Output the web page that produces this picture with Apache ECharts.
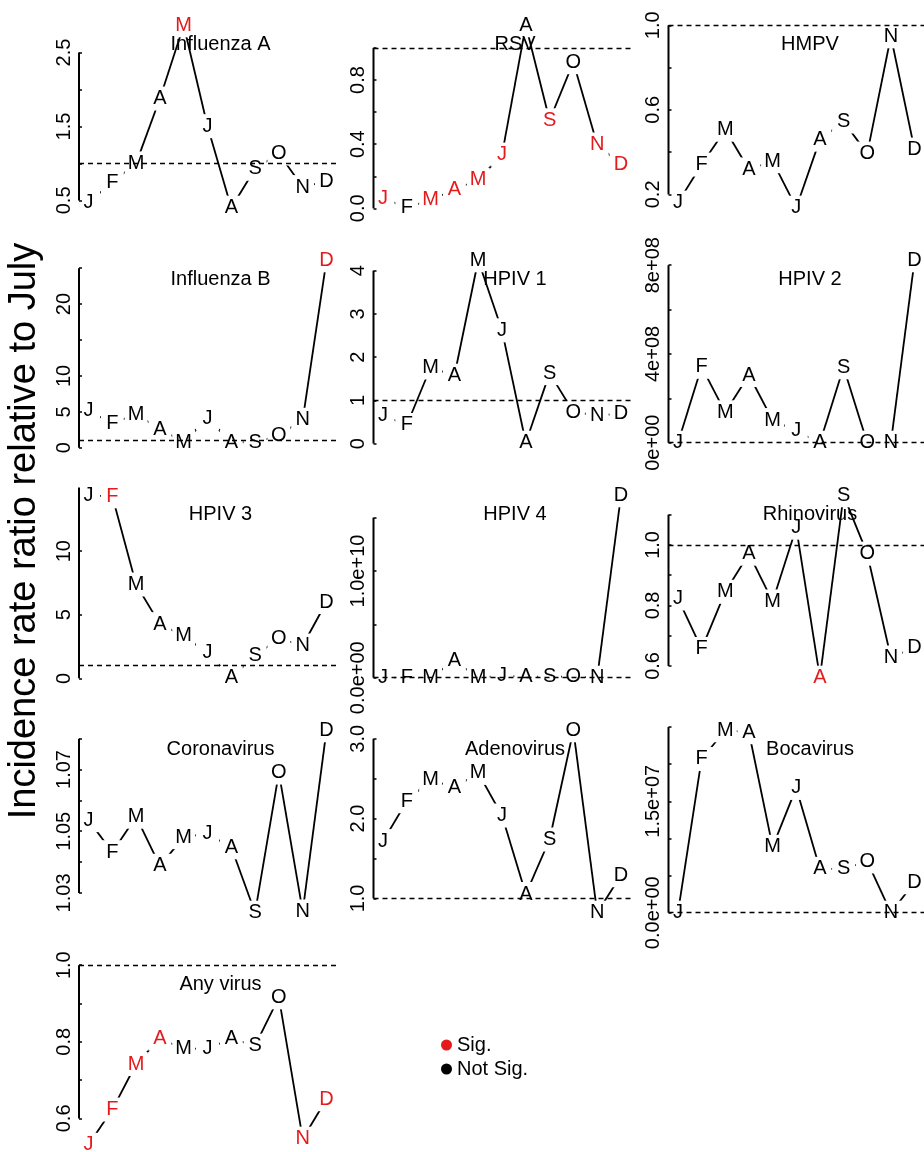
<!DOCTYPE html>
<html>
<head>
<meta charset="utf-8">
<script src="https://cdn.jsdelivr.net/npm/echarts@6/dist/echarts.min.js"></script>
<style>
  html, body { margin: 0; padding: 0; background: #ffffff; }
  #chart { width: 924px; height: 1152px; }
</style>
</head>
<body>
<div id="chart"></div>
<script>
// Month initials, July is the reference month and is left out
const months = ['J', 'F', 'M', 'A', 'M', 'J', 'A', 'S', 'O', 'N', 'D'];

// Incidence rate ratios relative to July, one array per virus
const fluA   = [0.469, 0.747, 1.00, 1.878, 2.869, 1.504, 0.401, 0.928, 1.135, 0.680, 0.761];
const rsv    = [0.063, 0.004, 0.053, 0.116, 0.178, 0.335, 1.141, 0.549, 0.911, 0.398, 0.273];
const hmpv   = [0.161, 0.341, 0.506, 0.318, 0.357, 0.137, 0.459, 0.545, 0.393, 0.948, 0.412];
const fluB   = [5.15, 3.37, 4.69, 2.58, 0.80, 4.07, 0.80, 0.70, 1.74, 3.89, 26.1];
const hpiv1  = [0.65, 0.43, 1.76, 1.57, 4.24, 2.62, 0.02, 1.63, 0.73, 0.65, 0.69];
const hpiv2  = [0.9, 3.42e8, 1.37e8, 3.05e8, 1.02e8, 0.53e8, 0.6, 3.40e8, 0.8, 1.1, 8.22e8];
const hpiv3  = [14.39, 14.31, 7.38, 4.26, 3.33, 2.0, 0.05, 1.78, 3.14, 2.58, 6.0];
const hpiv4  = [1.0, 1.2, 0.8, 1.6e9, 1.1, 2.0e8, 1.0e8, 1.0e8, 1.0e8, 1.3, 1.71e10];
const rhino  = [0.823, 0.656, 0.845, 0.971, 0.813, 1.057, 0.561, 1.164, 0.971, 0.628, 0.660];
const corona = [1.0536, 1.0432, 1.0547, 1.0388, 1.0481, 1.0492, 1.0448, 1.0236, 1.0690, 1.0240, 1.0827];
const adeno  = [1.718, 2.218, 2.487, 2.388, 2.572, 2.038, 1.055, 1.738, 3.106, 0.821, 1.29];
const boca   = [0.9, 20.7e6, 24.56e6, 24.3e6, 8.87e6, 16.8e6, 5.9e6, 5.9e6, 6.9e6, 0.7, 4.1e6];
const anyVirus = [0.531, 0.623, 0.742, 0.808, 0.782, 0.782, 0.808, 0.790, 0.916, 0.547, 0.650];

// Significance flags (1 = significant)
const fluASig   = [0, 0, 0, 0, 1, 0, 0, 0, 0, 0, 0];
const rsvSig    = [1, 0, 1, 1, 1, 1, 0, 1, 0, 1, 1];
const hmpvSig   = [0, 0, 0, 0, 0, 0, 0, 0, 0, 0, 0];
const fluBSig   = [0, 0, 0, 0, 0, 0, 0, 0, 0, 0, 1];
const hpiv1Sig  = [0, 0, 0, 0, 0, 0, 0, 0, 0, 0, 0];
const hpiv2Sig  = [0, 0, 0, 0, 0, 0, 0, 0, 0, 0, 0];
const hpiv3Sig  = [0, 1, 0, 0, 0, 0, 0, 0, 0, 0, 0];
const hpiv4Sig  = [0, 0, 0, 0, 0, 0, 0, 0, 0, 0, 0];
const rhinoSig  = [0, 0, 0, 0, 0, 0, 1, 0, 0, 0, 0];
const coronaSig = [0, 0, 0, 0, 0, 0, 0, 0, 0, 0, 0];
const adenoSig  = [0, 0, 0, 0, 0, 0, 0, 0, 0, 0, 0];
const bocaSig   = [0, 0, 0, 0, 0, 0, 0, 0, 0, 0, 0];
const anySig    = [1, 1, 1, 1, 0, 0, 0, 0, 0, 1, 1];

// Axis ticks and their labels ('' = tick without label)
const fluATicks   = [0.5, 1, 1.5, 2, 2.5];           const fluALabels   = ['0.5', '', '1.5', '', '2.5'];
const rsvTicks    = [0, 0.2, 0.4, 0.6, 0.8, 1.0];    const rsvLabels    = ['0.0', '', '0.4', '', '0.8', ''];
const hmpvTicks   = [0.2, 0.4, 0.6, 0.8, 1.0];       const hmpvLabels   = ['0.2', '', '0.6', '', '1.0'];
const fluBTicks   = [0, 5, 10, 15, 20, 25];          const fluBLabels   = ['0', '5', '10', '', '20', ''];
const hpiv1Ticks  = [0, 1, 2, 3, 4];                 const hpiv1Labels  = ['0', '1', '2', '3', '4'];
const hpiv2Ticks  = [0, 2e8, 4e8, 6e8, 8e8];         const hpiv2Labels  = ['0e+00', '', '4e+08', '', '8e+08'];
const hpiv3Ticks  = [0, 5, 10, 15];                  const hpiv3Labels  = ['0', '5', '10', '15'];
const hpiv4Ticks  = [0, 5e9, 1e10, 1.5e10];          const hpiv4Labels  = ['0.0e+00', '', '1.0e+10', ''];
const rhinoTicks  = [0.6, 0.7, 0.8, 0.9, 1.0, 1.1];  const rhinoLabels  = ['0.6', '', '0.8', '', '1.0', ''];
const coronaTicks = [1.03, 1.04, 1.05, 1.06, 1.07, 1.08]; const coronaLabels = ['1.03', '', '1.05', '', '1.07', ''];
const adenoTicks  = [1.0, 1.5, 2.0, 2.5, 3.0];       const adenoLabels  = ['1.0', '', '2.0', '', '3.0'];
const bocaTicks   = [0, 5e6, 1e7, 1.5e7, 2e7, 2.5e7]; const bocaLabels  = ['0.0e+00', '', '', '1.5e+07', '', ''];
const anyTicks    = [0.6, 0.7, 0.8, 0.9, 1.0];       const anyLabels    = ['0.6', '', '0.8', '', '1.0'];

const panels = [
  { name: 'Influenza A', values: fluA,    sig: fluASig,   ticks: fluATicks,   labels: fluALabels,   ref: true },
  { name: 'RSV',         values: rsv,     sig: rsvSig,    ticks: rsvTicks,    labels: rsvLabels,    ref: true },
  { name: 'HMPV',        values: hmpv,    sig: hmpvSig,   ticks: hmpvTicks,   labels: hmpvLabels,   ref: true },
  { name: 'Influenza B', values: fluB,    sig: fluBSig,   ticks: fluBTicks,   labels: fluBLabels,   ref: true },
  { name: 'HPIV 1',      values: hpiv1,   sig: hpiv1Sig,  ticks: hpiv1Ticks,  labels: hpiv1Labels,  ref: true },
  { name: 'HPIV 2',      values: hpiv2,   sig: hpiv2Sig,  ticks: hpiv2Ticks,  labels: hpiv2Labels,  ref: true },
  { name: 'HPIV 3',      values: hpiv3,   sig: hpiv3Sig,  ticks: hpiv3Ticks,  labels: hpiv3Labels,  ref: true },
  { name: 'HPIV 4',      values: hpiv4,   sig: hpiv4Sig,  ticks: hpiv4Ticks,  labels: hpiv4Labels,  ref: true },
  { name: 'Rhinovirus',  values: rhino,   sig: rhinoSig,  ticks: rhinoTicks,  labels: rhinoLabels,  ref: true },
  { name: 'Coronavirus', values: corona,  sig: coronaSig, ticks: coronaTicks, labels: coronaLabels, ref: false },
  { name: 'Adenovirus',  values: adeno,   sig: adenoSig,  ticks: adenoTicks,  labels: adenoLabels,  ref: true },
  { name: 'Bocavirus',   values: boca,    sig: bocaSig,   ticks: bocaTicks,   labels: bocaLabels,   ref: true },
  { name: 'Any virus',   values: anyVirus, sig: anySig,   ticks: anyTicks,    labels: anyLabels,    ref: true }
];

const FONT = "'Liberation Sans', Arial, Helvetica, sans-serif";
const RED = '#E41A1C';
const BLACK = '#000000';

// Panel layout (pixels)
const colLeft = [79, 373.5, 668.5];
const rowTop = [18, 253, 488, 723, 958];
const plotW = 257;
const plotH = 197;
const X_MIN = 0.6, X_MAX = 11.4;   // 11 points with 4% padding on each side

function paddedRange(vals, withRef) {
  const pool = withRef ? vals.concat([1]) : vals.slice();
  const lo = Math.min.apply(null, pool);
  const hi = Math.max.apply(null, pool);
  const pad = (hi - lo) * 0.04;
  return [lo - pad, hi + pad];
}

const grids = [], xAxes = [], yAxes = [], series = [], graphics = [];

panels.forEach(function (p, i) {
  const row = Math.floor(i / 3), col = i % 3;
  const left = colLeft[col], top = rowTop[row];
  grids.push({ left: left, top: top, width: plotW, height: plotH, containLabel: false });

  xAxes.push({
    gridIndex: i, type: 'value', min: X_MIN, max: X_MAX, show: false
  });

  const range = paddedRange(p.values, p.ref);
  const labelled = p.ticks.filter(function (t, k) { return p.labels[k] !== ''; });
  yAxes.push({
    gridIndex: i, type: 'value', min: range[0], max: range[1], z: 10,
    splitLine: { show: false },
    axisLine: { show: false },
    axisTick: {
      show: true, inside: true, length: 3, customValues: p.ticks,
      lineStyle: { color: BLACK, width: 1.5 }
    },
    axisLabel: {
      show: true, rotate: 90, margin: 5, customValues: labelled,
      color: BLACK, fontSize: 20, fontFamily: FONT,
      formatter: function (v) {
        for (let k = 0; k < p.ticks.length; k++) {
          if (Math.abs(p.ticks[k] - v) <= 1e-9 * Math.max(1, Math.abs(v))) return p.labels[k];
        }
        return '';
      }
    }
  });

  // connecting segments between consecutive months, plus reference line at 1
  const segs = [];
  for (let k = 0; k < p.values.length - 1; k++) {
    segs.push([k + 1, p.values[k], k + 2, p.values[k + 1]]);
  }
  const segSeries = {
    type: 'custom', name: p.name + ' lines', xAxisIndex: i, yAxisIndex: i,
    z: 2, clip: false, silent: true,
    encode: { x: [0, 2], y: [1, 3] },
    data: segs,
    renderItem: function (params, api) {
      const a = api.coord([api.value(0), api.value(1)]);
      const b = api.coord([api.value(2), api.value(3)]);
      return {
        type: 'line',
        shape: { x1: a[0], y1: a[1], x2: b[0], y2: b[1] },
        style: { stroke: BLACK, lineWidth: 1.8 }
      };
    }
  };
  if (p.ref) {
    segSeries.markLine = {
      silent: true, symbol: 'none', animation: false,
      label: { show: false },
      lineStyle: { type: [5, 4], color: BLACK, width: 1.3 },
      data: [{ yAxis: 1 }]
    };
  }
  series.push(segSeries);

  // month letters drawn as the points, on a white patch
  series.push({
    type: 'custom', name: p.name + ' months', xAxisIndex: i, yAxisIndex: i,
    z: 3, clip: false, silent: true,
    encode: { x: 0, y: 1 },
    data: p.values.map(function (v, k) { return [k + 1, v, p.sig[k], k]; }),
    renderItem: function (params, api) {
      const c = api.coord([api.value(0), api.value(1)]);
      const color = api.value(2) === 1 ? RED : BLACK;
      return {
        type: 'group',
        children: [
          { type: 'rect', shape: { x: c[0] - 11.5, y: c[1] - 12, width: 23, height: 24 },
            style: { fill: '#ffffff' } },
          { type: 'text', x: c[0], y: c[1],
            style: { text: months[api.value(3)], fill: color, fontSize: 20, fontFamily: FONT,
                     align: 'center', verticalAlign: 'middle' } }
        ]
      };
    }
  });

  // axis line spanning first to last tick
  series.push({
    type: 'line', name: p.name + ' axis', xAxisIndex: i, yAxisIndex: i,
    z: 10, clip: false, silent: true, symbol: 'none', animation: false,
    lineStyle: { color: BLACK, width: 2, cap: 'butt' },
    data: [[X_MIN, p.ticks[0]], [X_MIN, p.ticks[p.ticks.length - 1]]]
  });

  // panel title
  graphics.push({
    type: 'text', z: 100, x: left + plotW / 2 + 13, y: top + 26,
    style: { text: p.name, fill: BLACK, fontSize: 20, fontFamily: FONT,
             align: 'center', verticalAlign: 'middle' }
  });
});

// legend entries
series.push({ type: 'scatter', name: 'Sig.', xAxisIndex: 0, yAxisIndex: 0, data: [],
              itemStyle: { color: RED, opacity: 1 } });
series.push({ type: 'scatter', name: 'Not Sig.', xAxisIndex: 0, yAxisIndex: 0, data: [],
              itemStyle: { color: BLACK, opacity: 1 } });

// shared y-axis title
graphics.push({
  type: 'text', z: 100, x: 25, y: 531, rotation: Math.PI / 2,
  style: { text: 'Incidence rate ratio relative to July', fill: BLACK, fontSize: 38, fontFamily: FONT,
           align: 'center', verticalAlign: 'middle' }
});

const chart = echarts.init(document.getElementById('chart'), null, { renderer: 'canvas' });
chart.setOption({
  animation: false,
  backgroundColor: '#ffffff',
  grid: grids,
  xAxis: xAxes,
  yAxis: yAxes,
  series: series,
  legend: {
    orient: 'vertical', left: 436, top: 1030, itemGap: 4,
    itemWidth: 11, itemHeight: 11, selectedMode: false,
    textStyle: { fontSize: 20, fontFamily: FONT, color: BLACK },
    data: [{ name: 'Sig.', icon: 'circle', itemStyle: { color: RED, opacity: 1 } },
           { name: 'Not Sig.', icon: 'circle', itemStyle: { color: BLACK, opacity: 1 } }]
  },
  graphic: graphics
});
</script>
</body>
</html>
